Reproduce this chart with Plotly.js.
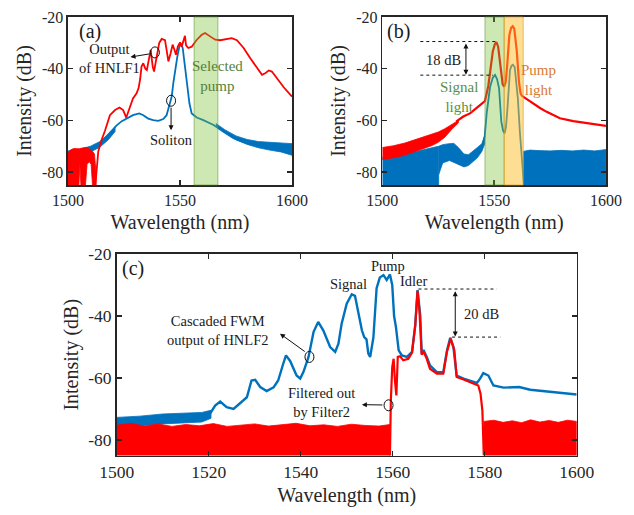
<!DOCTYPE html>
<html>
<head>
<meta charset="utf-8">
<script src="https://cdn.plot.ly/plotly-3.0.1.min.js"></script>
<style>html,body{margin:0;padding:0;background:#fff;}#chart{width:634px;height:515px;}</style>
</head>
<body>
<div id="chart"></div>
<script>
// ---------------- Data ----------------
const yTickVals = [-20, -40, -60, -80];
const yTickText = ['-20', '-40', '-60', '-80'];
const xTickAB = [1500, 1550, 1600];
const xTickC = [1500, 1520, 1540, 1560, 1580, 1600];

// Panel (a) red: output of HNLF1
const aRedWl = [1512.2, 1513.5, 1515, 1516.5, 1518.7, 1521, 1523, 1524.6, 1526, 1527.6, 1529, 1530.6, 1531.5, 1532.2, 1532.8, 1533.6, 1534.5, 1535.2, 1535.8, 1536.9, 1537.8, 1538.4, 1539.6, 1540.7, 1541.8, 1543.3, 1544, 1544.8, 1545.8, 1546.7, 1547.5, 1548.2, 1549, 1550, 1550.7, 1551.5, 1552.2, 1552.7, 1553.7, 1555.2, 1557.5, 1559.7, 1561.2, 1563.4, 1565.7, 1567.9, 1570.9, 1573.1, 1575.4, 1578.4, 1581.3, 1584.3, 1586.6, 1588, 1589.6, 1591, 1593.3, 1596.3, 1600];
const aRedDb = [-85, -72, -67.5, -64, -58, -56, -55, -56, -58.9, -54.7, -51.5, -49.5, -47.5, -44, -39.2, -37.9, -40, -40.5, -38, -32.7, -39.2, -41.1, -35.3, -30.1, -28.5, -29, -32.7, -37.2, -34, -30.7, -32.7, -34.6, -31.4, -29.8, -31.5, -29.5, -27.3, -31, -32, -31.5, -28.8, -26.9, -26.2, -27.5, -28.8, -29, -28.5, -28.2, -29, -32, -35.9, -39.8, -42.4, -41.8, -40.7, -41.1, -43.7, -47.2, -50.8];
const aRedNzWl = [1499.8, 1501, 1502.5, 1504, 1504.8, 1505.3, 1505.8, 1507, 1507.7, 1508.5, 1509.5, 1510.3, 1511, 1511.8, 1512.5];
const aRedNzTop = [-73, -71.5, -70.9, -71, -71.2, -71, -70.8, -70.5, -70.5, -70.6, -71, -71.5, -72, -73, -80];
const aRedNzBot = [-86, -86, -86, -86, -86, -77, -86, -86, -86, -77, -76, -77, -86, -86, -86];

// Panel (a) blue: soliton
const aBlueWl = [1500, 1505, 1510, 1512.7, 1515, 1517, 1519.5, 1521.6, 1524, 1526, 1529, 1531.8, 1533.6, 1535.8, 1538, 1540.3, 1542.5, 1544, 1545.2, 1546.3, 1547, 1547.8, 1548.8, 1549.7, 1550.4, 1551.2, 1551.9, 1553, 1554.2, 1555.2, 1557.5, 1560.4, 1565, 1569.4, 1573.9, 1578.4, 1582.8, 1588.8, 1594, 1600];
const aBlueDb = [-72.8, -72.2, -71.2, -70, -68.3, -66.5, -64, -62, -60.3, -59.3, -58, -57.3, -58, -59.3, -59.9, -60.2, -59.5, -58, -54.1, -50.8, -45.6, -40.5, -35.3, -31.4, -30.4, -32, -36.6, -45.6, -53.4, -57.3, -58.9, -59.9, -61.8, -64.4, -66.9, -68.4, -69.3, -70, -70.5, -71.3];
const aBlueNzWl = [1566, 1570, 1575, 1580, 1585, 1590, 1595, 1600];
const aBlueNzTop = [-61.2, -63.6, -66, -67.4, -68.2, -68.5, -68.7, -69];
const aBlueNzBot = [-62.2, -64.8, -67.5, -69.3, -70.6, -71.5, -72.2, -73.5];
const aBlueNzLWl = [1500, 1505, 1510, 1514, 1518, 1521];
const aBlueNzLTop = [-71.8, -71.2, -70, -68.3, -65.4, -62.5];
const aBlueNzLBot = [-74, -73.3, -72.2, -70.5, -67.5, -64.3];

// Panel (b) red
const bRedNzWl = [1500, 1505, 1510, 1514, 1518, 1522, 1525, 1528, 1531, 1534];
const bRedNzTop = [-70.5, -69.8, -68.8, -67.6, -66.5, -65.5, -64.5, -63.2, -61.5, -60];
const bRedNzBot = [-75.2, -74.5, -73.5, -72.2, -71, -69.8, -68.5, -66.5, -63.5, -61];
const bRedWl = [1533, 1536.2, 1539.2, 1542.2, 1543.7, 1545.9, 1547.4, 1548.4, 1549.4, 1550.3, 1551, 1551.8, 1552.6, 1553.8, 1554.5, 1555.2, 1555.9, 1556.8, 1557.6, 1558.3, 1559, 1560.1, 1561.1, 1561.8, 1562.4, 1564, 1567.5, 1570.5, 1573.5, 1576.5, 1579.4, 1585.4, 1592.8, 1600];
const bRedDb = [-60.5, -58.5, -57.3, -55.4, -54.1, -52.5, -46.6, -40, -33.3, -30.5, -29.7, -31.5, -38, -46, -47, -45, -38, -27, -24.2, -23.6, -24.5, -33, -45, -49.5, -50.5, -51.5, -53.4, -55.2, -56.7, -58, -59.2, -60.3, -61.2, -62.1];

// Panel (b) blue
const bBlueFlLWl = [1500, 1505, 1510, 1514, 1518, 1522, 1524.5, 1525.2];
const bBlueFlLTop = [-74.2, -73.8, -73, -72.2, -71.5, -70.8, -70.2, -70];
const bBlueHumpWl = [1525.2, 1527, 1530, 1532, 1534, 1536.5, 1538.5, 1540.5, 1542.5, 1544.5, 1545.8];
const bBlueHumpTop = [-70, -69.4, -69, -68.9, -70.5, -73, -73.3, -72, -70.5, -69, -66];
const bBlueHumpBot = [-81, -76.5, -75.5, -76, -77, -78, -77.5, -76, -74.5, -72, -69];
const bBlueWl = [1545, 1545.8, 1546.7, 1547.6, 1548.2, 1549.4, 1550.4, 1551.3, 1552.2, 1553.2, 1554, 1554.7, 1555.3, 1555.9, 1556.5, 1557.1, 1557.8, 1558.4, 1559.2, 1559.8, 1560.6, 1561.5, 1562.2, 1562.8, 1563.3];
const bBlueDb = [-69, -66, -57, -50, -47, -43.5, -42.4, -44, -47.6, -60.5, -64, -65, -62.5, -56, -46, -40.5, -38.8, -38.5, -39.5, -44, -51.5, -64.4, -72, -78, -85];
const bBlueFlRWl = [1563, 1566, 1570, 1575, 1580, 1585, 1590, 1595, 1600];
const bBlueFlRTop = [-72, -71.5, -71.7, -71.8, -71.6, -71.8, -71.5, -71.8, -71.3];

// Panel (c) blue: cascaded FWM output of HNLF2
const cBlueNzWl = [1500, 1505, 1510, 1515, 1518.5, 1520.5];
const cBlueNzTop = [-72.7, -72.3, -71.6, -71.3, -71.1, -70.4];
const cBlueNzBot = [-75.9, -75.4, -74.8, -74.4, -74.2, -73];
const cBlueWl = [1520.3, 1521.4, 1522.5, 1523.9, 1525.4, 1526.8, 1528.3, 1529.3, 1530.1, 1531.2, 1532.6, 1534.1, 1535.1, 1536.2, 1536.8, 1537.7, 1539.1, 1539.9, 1540.6, 1541.7, 1542.8, 1543.8, 1544.9, 1546.4, 1547.5, 1548.2, 1548.9, 1550, 1551.1, 1551.8, 1552.5, 1553.3, 1553.8, 1554.3, 1554.7, 1555.1, 1555.8, 1556.5, 1557.2, 1558, 1558.7, 1559.4, 1559.9, 1560.3, 1560.7, 1561.3, 1562, 1563.1, 1564.2, 1564.9, 1565.4, 1566, 1566.3, 1566.7, 1567.4, 1568.1, 1569.6, 1571, 1571.8, 1572.5, 1573.2, 1573.9, 1575.4, 1576.8, 1578.3, 1579, 1579.7, 1580.8, 1581.9, 1584.1, 1587.5, 1589.9, 1593.5, 1597.1, 1600];
const cBlueDb = [-71.5, -68.9, -67.6, -69.4, -70, -68.3, -66.2, -60.8, -60.6, -62.9, -64.2, -63, -60.8, -55.4, -52.7, -54.5, -59.2, -60.2, -58, -53.2, -45.1, -41.9, -44.6, -50, -51.6, -48.9, -42.5, -36, -33, -33.5, -38.7, -44.6, -46.8, -47.5, -52.1, -53.2, -47, -31, -27.6, -26.8, -28.4, -26.6, -30, -40, -43.5, -51.1, -52.7, -53.2, -51.6, -43, -31.6, -40, -52.1, -51, -53.2, -55.9, -58.1, -58.1, -51.1, -47, -50, -59.2, -60.2, -60.8, -61.6, -60.2, -58.4, -59.2, -62.4, -63.1, -62.9, -63.8, -64.4, -65, -65.3];

// Panel (c) red: filtered by Filter2
const cRedFlLWl = [1500, 1503, 1506, 1509, 1512, 1515, 1518, 1521, 1524, 1527, 1530, 1533, 1536, 1539, 1542, 1545, 1548, 1551, 1554, 1557, 1559.4];
const cRedFlLTop = [-75.2, -74.6, -75.5, -74.8, -75.6, -75, -75.4, -74.7, -75.6, -75.2, -74.8, -75.5, -75, -74.6, -75.4, -75.1, -75.6, -74.9, -75.3, -75.5, -75];
const cRedWl = [1559.4, 1559.6, 1559.9, 1560.2, 1560.5, 1560.8, 1561.1, 1561.6, 1562.3, 1563.4, 1564.2, 1564.9, 1565.4, 1565.8, 1566.3, 1566.7, 1567.4, 1568.1, 1569.6, 1571, 1571.8, 1572.6, 1573.4, 1573.9, 1575.4, 1576.8, 1578.6, 1579.1, 1579.5, 1579.8];
const cRedDb = [-85, -67.2, -56.5, -53.8, -61, -65.6, -53.2, -53, -54.3, -53.8, -51.8, -43, -31.9, -38, -52.5, -51.5, -53.8, -57, -58.6, -58.6, -51.5, -47.3, -51, -59.7, -60.5, -61.3, -62.4, -65.1, -70.5, -85];
const cRedFlRWl = [1579.8, 1582, 1584, 1586, 1588, 1590, 1592, 1594, 1596, 1598, 1600];
const cRedFlRTop = [-74, -73.6, -74.3, -73.8, -74.4, -73.5, -74.2, -73.7, -74.3, -73.6, -74];

// ---------------- Drawing ----------------
const BLUE = '#0072BD', RED = '#FF0000';
const FONT = 'Liberation Serif, Times New Roman, Times, serif';
const AX = {a: {x: 'x', y: 'y'}, b: {x: 'x2', y: 'y2'}, c: {x: 'x3', y: 'y3'}};

function line(x, y, color, w, ax) {
  return {type: 'scatter', mode: 'lines', x: x, y: y, line: {color: color, width: w},
          xaxis: ax.x, yaxis: ax.y, hoverinfo: 'skip'};
}
function band(x, lo, hi, color, ax) {
  return {type: 'scatter', mode: 'lines', x: x.concat(x.slice().reverse()),
          y: hi.concat(lo.slice().reverse()), fill: 'toself', fillcolor: color,
          line: {color: color, width: 0.8}, xaxis: ax.x, yaxis: ax.y, hoverinfo: 'skip'};
}
function floorBand(x, top, color, ax) {
  return band(x, x.map(() => -90), top, color, ax);
}

const traces = [
  // (a)
  band(aBlueNzLWl, aBlueNzLBot, aBlueNzLTop, BLUE, AX.a),
  band(aBlueNzWl, aBlueNzBot, aBlueNzTop, BLUE, AX.a),
  line(aBlueWl, aBlueDb, BLUE, 1.8, AX.a),
  band(aRedNzWl, aRedNzBot, aRedNzTop, RED, AX.a),
  line(aRedWl, aRedDb, RED, 1.8, AX.a),
  // (b)
  floorBand(bBlueFlLWl, bBlueFlLTop, BLUE, AX.b),
  band(bBlueHumpWl, bBlueHumpBot, bBlueHumpTop, BLUE, AX.b),
  line(bBlueWl, bBlueDb, BLUE, 1.8, AX.b),
  floorBand(bBlueFlRWl, bBlueFlRTop, BLUE, AX.b),
  band(bRedNzWl, bRedNzBot, bRedNzTop, RED, AX.b),
  line(bRedWl, bRedDb, RED, 2.2, AX.b),
  // (c)
  band(cBlueNzWl, cBlueNzBot, cBlueNzTop, BLUE, AX.c),
  line(cBlueWl, cBlueDb, BLUE, 2.4, AX.c),
  floorBand(cRedFlLWl, cRedFlLTop, RED, AX.c),
  line(cRedWl, cRedDb, RED, 2.2, AX.c),
  floorBand(cRedFlRWl, cRedFlRTop, RED, AX.c)
];

function xax(domain, anchor, tickvals, tsize) {
  return {domain: domain, anchor: anchor, range: [1500, 1600], tickvals: tickvals,
          ticktext: tickvals.map(String), ticks: 'inside', ticklen: 5, tickwidth: 1.3,
          tickcolor: '#262626', showline: true, linecolor: '#262626', linewidth: 1.6,
          mirror: 'ticks', showgrid: false, zeroline: false,
          tickfont: {family: FONT, size: tsize, color: '#262626'},
          title: {text: 'Wavelength (nm)', font: {family: FONT, size: 20, color: '#262626'}, standoff: 7}};
}
function yax(domain, anchor, tsize, standoff) {
  return {domain: domain, anchor: anchor, range: [-85, -20], tickvals: yTickVals,
          ticktext: yTickText, ticks: 'inside', ticklen: 5, tickwidth: 1.3,
          tickcolor: '#262626', showline: true, linecolor: '#262626', linewidth: 1.6,
          mirror: 'ticks', showgrid: false, zeroline: false,
          tickfont: {family: FONT, size: tsize, color: '#262626'},
          title: {text: 'Intensity (dB)', font: {family: FONT, size: 20, color: '#262626'}, standoff: standoff}};
}

function txt(ref, x, y, text, size, color) {
  return {xref: ref.x, yref: ref.y, x: x, y: y, text: text, showarrow: false,
          font: {family: FONT, size: size, color: color || '#1a1a1a'}, align: 'center'};
}
function arrow(ref, x, y, ax, ay, both) {
  return {xref: ref.x, yref: ref.y, axref: ref.x, ayref: ref.y, x: x, y: y, ax: ax, ay: ay,
          text: '', showarrow: true, arrowhead: 2, arrowsize: 1, arrowwidth: 1,
          arrowcolor: '#111', arrowside: both ? 'end+start' : 'end', standoff: 0, startstandoff: 0};
}
function circ(ref, x, y) {
  return {type: 'circle', xref: ref.x, yref: ref.y, xsizemode: 'pixel', ysizemode: 'pixel',
          xanchor: x, yanchor: y, x0: -4.5, x1: 4.5, y0: -5.5, y1: 5.5,
          line: {color: '#111', width: 1}, layer: 'above'};
}
function dline(ref, x0, x1, y) {
  return {type: 'line', xref: ref.x, yref: ref.y, x0: x0, x1: x1, y0: y, y1: y,
          line: {color: '#111', width: 1, dash: 'dot'}, layer: 'above'};
}
function vband(ref, x0, x1, fill, edge) {
  return {type: 'rect', xref: ref.x, yref: ref.y + ' domain', x0: x0, x1: x1, y0: 0, y1: 1,
          fillcolor: fill, line: {color: edge, width: 1}, layer: 'above'};
}

const GREEN_FILL = 'rgba(119,190,48,0.36)', GREEN_EDGE = 'rgba(90,150,40,0.55)';
const YEL_FILL = 'rgba(253,190,40,0.5)', YEL_EDGE = 'rgba(225,150,30,0.6)';

const layout = {
  width: 634, height: 515, margin: {l: 0, r: 0, t: 0, b: 0},
  paper_bgcolor: '#ffffff', plot_bgcolor: '#ffffff', showlegend: false,
  font: {family: FONT, color: '#262626'},
  xaxis: xax([0.1073, 0.4606], 'y', xTickAB, 16),
  yaxis: yax([0.6408, 0.9670], 'x', 16, 5),
  xaxis2: xax([0.6030, 0.9558], 'y2', xTickAB, 16),
  yaxis2: yax([0.6408, 0.9670], 'x2', 16, 5),
  xaxis3: xax([0.1841, 0.9096], 'y3', xTickC, 17.5),
  yaxis3: yax([0.1155, 0.5068], 'x3', 17.5, 4),
  shapes: [
    vband(AX.a, 1556.3, 1566.9, GREEN_FILL, GREEN_EDGE),
    vband(AX.b, 1545.9, 1554.5, GREEN_FILL, GREEN_EDGE),
    vband(AX.b, 1554.5, 1563.0, YEL_FILL, YEL_EDGE),
    circ(AX.a, 1538.8, -33.7),
    circ(AX.a, 1546.0, -52.4),
    dline(AX.b, 1517, 1550.5, -29.5),
    dline(AX.b, 1517, 1549.5, -42.5),
    dline(AX.c, 1565.6, 1582.6, -31.3),
    dline(AX.c, 1572.9, 1583.4, -46.8),
    circ(AX.c, 1541.9, -53.2),
    circ(AX.c, 1559.1, -68.8)
  ],
  annotations: [
    txt(AX.a, 1509.8, -25.6, '(a)', 20),
    txt(AX.a, 1518.7, -36.2, 'Output<br>of HNLF1', 14.5),
    txt(AX.a, 1546.3, -67.4, 'Soliton', 14.5),
    txt(AX.a, 1566.7, -42.8, 'Selected<br>pump', 15, '#55803a'),
    arrow(AX.a, 1527.9, -35.5, 1536.9, -34.2),
    arrow(AX.a, 1546.0, -63.8, 1546.0, -54.5),

    txt(AX.b, 1507.2, -25.6, '(b)', 20),
    txt(AX.b, 1527.3, -36.6, '18 dB', 14.5),
    txt(AX.b, 1534.4, -51.0, 'Signal<br>light', 15, '#5b8f3e'),
    txt(AX.b, 1569.7, -44.5, 'Pump<br>light', 15, '#d97a35'),
    arrow(AX.b, 1537.4, -42.3, 1537.4, -29.7, true),

    txt(AX.c, 1503.6, -24.6, '(c)', 20),
    txt(AX.c, 1550.4, -29.8, 'Signal', 14.5),
    txt(AX.c, 1558.9, -24.0, 'Pump', 14.5),
    txt(AX.c, 1564.6, -28.6, 'Idler', 14.5),
    txt(AX.c, 1579.2, -39.4, '20 dB', 14.5),
    txt(AX.c, 1522.0, -44.7, 'Cascaded FWM<br>output of HNLF2', 14.5),
    txt(AX.c, 1544.6, -67.8, 'Filtered out<br>by Filter2', 14.5),
    arrow(AX.c, 1573.6, -46.6, 1573.6, -31.5, true),
    arrow(AX.c, 1535.5, -45.7, 1541.2, -51.8),
    arrow(AX.c, 1553.3, -68.6, 1558.1, -68.7)
  ]
};

Plotly.newPlot('chart', traces, layout, {displayModeBar: false, staticPlot: true});
</script>
</body>
</html>
